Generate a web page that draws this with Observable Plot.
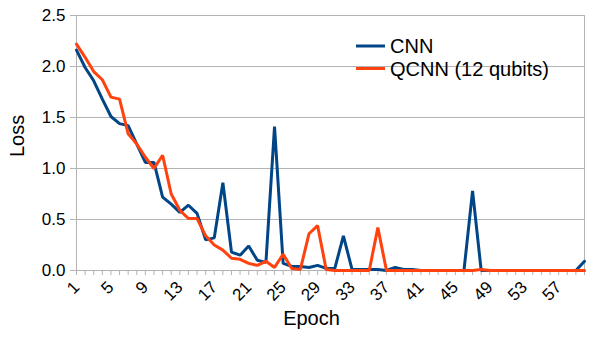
<!DOCTYPE html>
<html>
<head>
<meta charset="utf-8">
<script src="https://cdn.jsdelivr.net/npm/d3@7"></script>
<script src="https://cdn.jsdelivr.net/npm/@observablehq/plot@0.6"></script>
<style>
  html, body { margin: 0; padding: 0; background: #fff; }
  #chart { width: 600px; height: 340px; overflow: hidden; }
</style>
</head>
<body>
<div id="chart"></div>
<script>
const epochs = [1,2,3,4,5,6,7,8,9,10,11,12,13,14,15,16,17,18,19,20,
  21,22,23,24,25,26,27,28,29,30,31,32,33,34,35,36,37,38,39,40,
  41,42,43,44,45,46,47,48,49,50,51,52,53,54,55,56,57,58,59,60];
const labelledEpochs = [1,5,9,13,17,21,25,29,33,37,41,45,49,53,57];
const yTicks = [0, 0.5, 1.0, 1.5, 2.0, 2.5];
const seriesNames = ["CNN", "QCNN (12 qubits)"];
const seriesColors = ["#004586", "#ff420e"];
const cnnLoss = [2.16,1.99,1.86,1.68,1.51,1.44,1.42,1.24,1.06,1.06,
  0.72,0.65,0.57,0.64,0.56,0.30,0.32,0.86,0.18,0.15,
  0.24,0.10,0.08,1.41,0.07,0.04,0.04,0.03,0.05,0.02,
  0.02,0.34,0.01,0.01,0.01,0.01,0.00,0.03,0.01,0.01,
  0,0,0,0,0,0,0.78,0,0,0,
  0,0,0,0,0,0,0,0,0,0.09];
const qcnnLoss = [2.22,2.09,1.95,1.87,1.70,1.68,1.34,1.24,1.11,1.00,
  1.13,0.75,0.59,0.51,0.51,0.34,0.25,0.20,0.12,0.11,
  0.07,0.05,0.09,0.03,0.16,0.02,0.01,0.36,0.44,0.01,
  0,0,0,0,0,0.42,0,0,0,0,
  0,0,0,0,0,0,0,0.01,0,0,
  0,0,0,0,0,0,0,0,0,0];

const cnnData = epochs.map((e, i) => ({epoch: e, loss: cnnLoss[i]}));
const qcnnData = epochs.map((e, i) => ({epoch: e, loss: qcnnLoss[i]}));

const gridColor = "#b3b3b3";
const font = "'Liberation Sans', Arial, sans-serif";

const chart = Plot.plot({
  width: 600,
  height: 340,
  marginLeft: 76,
  marginRight: 16,
  marginTop: 15,
  marginBottom: 70,
  style: {fontFamily: font, fontSize: "17px", color: "#000", background: "#fff", overflow: "visible"},
  x: {domain: [1, 60]},
  y: {domain: [0, 2.5]},
  marks: [
    Plot.gridY(yTicks, {stroke: gridColor, strokeOpacity: 1}),
    Plot.ruleX([1, 60], {stroke: gridColor, strokeOpacity: 1}),
    Plot.ruleY([0], {stroke: gridColor, strokeOpacity: 1}),
    Plot.axisY(yTicks, {tickFormat: d => d.toFixed(1), tickSize: 6, tickPadding: 5, stroke: gridColor, label: null, fontSize: 17, fill: "#000"}),
    Plot.axisX(epochs, {tickSize: 5, tickPadding: 9, tickRotate: -45, tickFormat: d => labelledEpochs.includes(d) ? String(d) : "", stroke: gridColor, label: null, fontSize: 17, fill: "#000"}),
    Plot.line(cnnData, {x: "epoch", y: "loss", stroke: seriesColors[0], strokeWidth: 3, strokeLinejoin: "miter"}),
    Plot.line(qcnnData, {x: "epoch", y: "loss", stroke: seriesColors[1], strokeWidth: 3, strokeLinejoin: "miter"}),
    Plot.text(["Loss"], {frameAnchor: "left", dx: -59, dy: 14, rotate: -90, fontSize: 20, fill: "#000"}),
    Plot.text(["Epoch"], {frameAnchor: "bottom", dx: -19, dy: 54, fontSize: 20, fill: "#000"})
  ]
});

// Legend (inside the plot area, top right)
const svg = d3.select(chart);
const legend = svg.append("g")
  .attr("font-family", font)
  .attr("font-size", 20)
  .attr("text-anchor", "start");
seriesNames.forEach((name, i) => {
  const y = 46 + i * 22.5;
  legend.append("line").attr("x1", 356).attr("x2", 385).attr("y1", y).attr("y2", y)
    .attr("stroke", seriesColors[i]).attr("stroke-width", 3);
  legend.append("text").attr("x", 390).attr("y", y).attr("dy", "0.35em")
    .attr("text-anchor", "start").attr("fill", "#000").text(name);
});

document.getElementById("chart").appendChild(chart);
</script>
</body>
</html>
